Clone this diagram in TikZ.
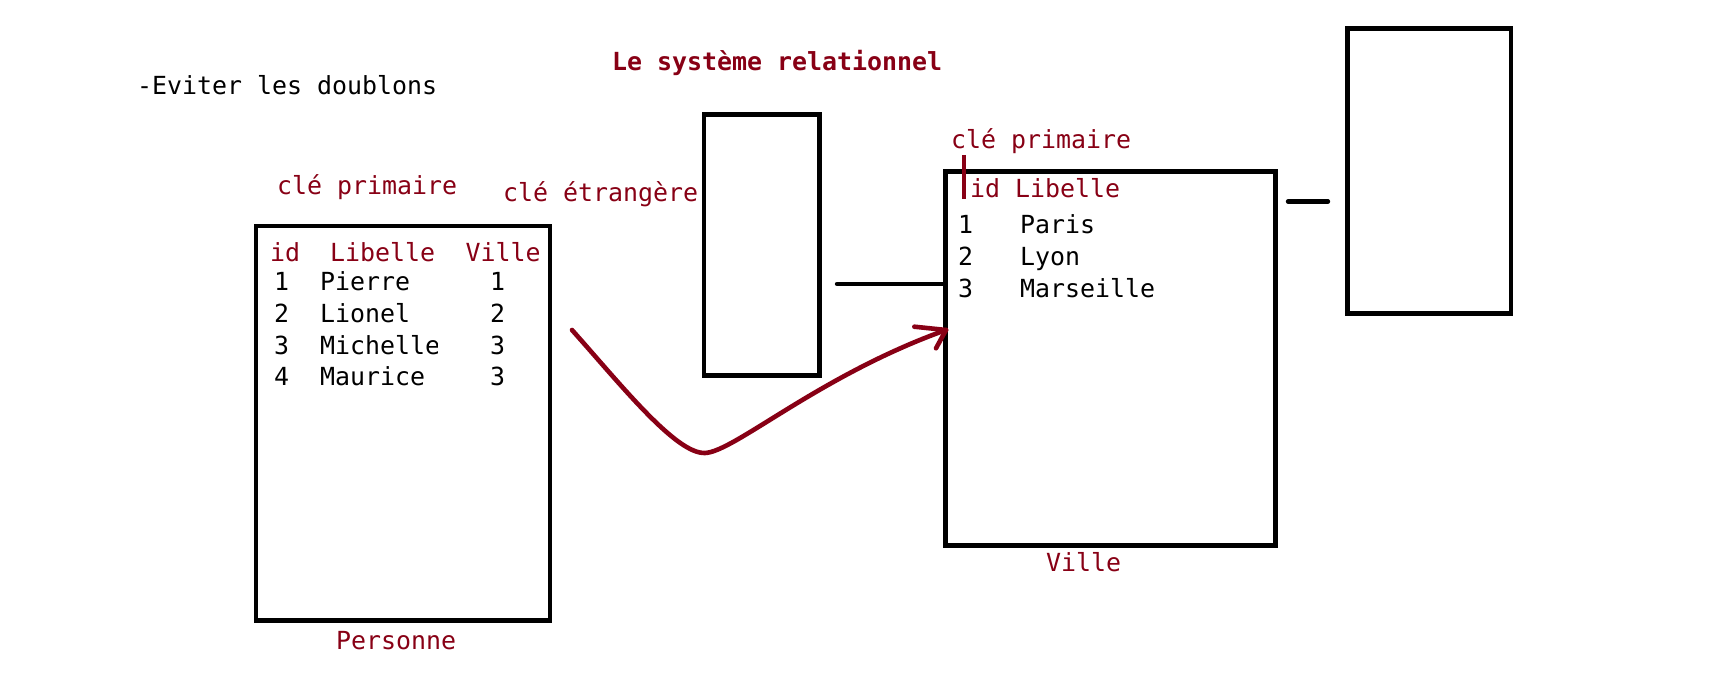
\documentclass[tikz,border=0pt]{standalone}
\usepackage{fontspec}
\setmainfont{DejaVu Sans Mono}
\definecolor{dred}{HTML}{880015}
\begin{document}
\begin{tikzpicture}[x=0.5pt,y=-0.5pt,
  txt/.style={anchor=base west,inner sep=0pt,outer sep=0pt,font=\fontsize{12.46}{15}\selectfont},
  rtxt/.style={txt,text=dred},
  tbox/.style={draw=black,line width=2.4pt,inner sep=0pt,outer sep=0pt,anchor=north west},
  bline/.style={draw=black,line width=2.2pt,line cap=round},
  rline/.style={draw=dred,line width=2.3pt,line cap=round,line join=round}]
\useasboundingbox (0,0) rectangle (1731,689);
\fill[white] (0,0) rectangle (1731,689);
% texts
\node[txt] (eviter) at (137,95) {-Eviter les doublons};
\node[rtxt,font=\fontsize{12.46}{15}\selectfont\bfseries] (titre) at (612,71) {Le système relationnel};
\node[rtxt] (clep1) at (277,195) {clé primaire};
\node[rtxt] (clee) at (503,202) {clé étrangère};
% boxes
\node[tbox,minimum width=147pt,minimum height=197.2pt] (personne) at (256,226) {};
\node[tbox,minimum width=57.75pt,minimum height=130.3pt] (petit) at (704,114.7) {};
\node[tbox,minimum width=165pt,minimum height=187pt] (ville) at (945.5,171.3) {};
\node[tbox,minimum width=81.75pt,minimum height=142.5pt] (droite) at (1347.5,28.3) {};
% Personne table
\node[rtxt] (pid) at (270,261.7) {id};
\node[rtxt] (plib) at (330,261.7) {Libelle};
\node[rtxt] (pvil) at (465.5,261.7) {Ville};
\node[txt] (p1a) at (274,291) {1};
\node[txt] (p1b) at (320,291) {Pierre};
\node[txt] (p1c) at (490,291) {1};
\node[txt] (p2a) at (274,322.7) {2};
\node[txt] (p2b) at (320,322.7) {Lionel};
\node[txt] (p2c) at (490,322.7) {2};
\node[txt] (p3a) at (274,354.3) {3};
\begin{scope}
\clip (300,300) rectangle (437,380);
\node[txt] (p3b) at (320,354.3) {Michelle};
\end{scope}
\node[txt] (p3c) at (490,354.3) {3};
\node[txt] (p4a) at (274,386) {4};
\node[txt] (p4b) at (320,386) {Maurice};
\node[txt] (p4c) at (490,386) {3};
\node[rtxt] (plabel) at (336,650) {Personne};
% Ville table
\node[rtxt] (clep2) at (951,149) {clé primaire};
\node[rtxt] (vhead) at (970,197.7) {id Libelle};
\node[txt] (v1a) at (958,233.3) {1};
\node[txt] (v1b) at (1020,233.3) {Paris};
\node[txt] (v2a) at (958,265.7) {2};
\node[txt] (v2b) at (1020,265.7) {Lyon};
\node[txt] (v3a) at (958,297.7) {3};
\node[txt] (v3b) at (1020,297.7) {Marseille};
\node[rtxt] (vlabel) at (1046,572) {Ville};
% red tick
\coordinate (tickA) at (964,155);
\coordinate (tickB) at (964,199);
\draw[dred,line width=2.2pt] (tickA) -- (tickB);
% connectors
\coordinate (c1) at (837,284);
\draw[bline] (c1) -- (c1 -| ville.west);
\coordinate (s1) at (1288,201.5);
\coordinate (s2) at (1328,201.5);
\draw[bline] (s1) -- (s2);
% red curved arrow
\coordinate (start) at (572,330);
\coordinate (tip) at (946,330);
\draw[rline] (start) .. controls (622,386) and (676,454) .. (705,453)
  .. controls (734,452) and (820,375) .. (tip);
\draw[rline] (tip) -- ++(-31.7,-3.3);
\draw[rline] (tip) -- ++(-10,18.3);
\end{tikzpicture}
\end{document}
